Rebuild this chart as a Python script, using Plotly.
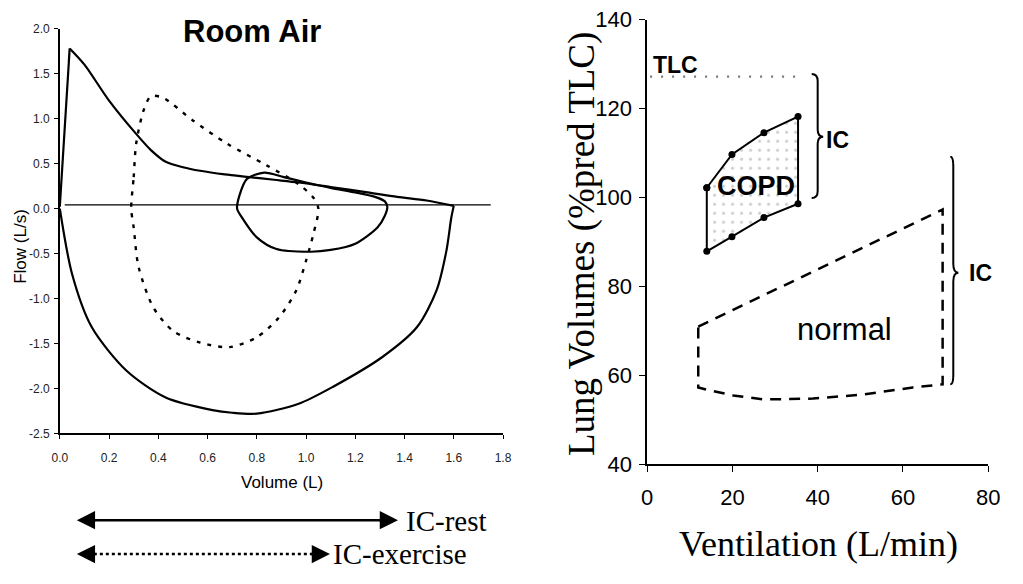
import plotly.graph_objects as go

# ---------------- Left panel: flow-volume loops (Room Air) ----------------
max_exp_volume = [0.00, 0.04, 0.10, 0.20, 0.31, 0.37, 0.43, 0.50, 0.57, 0.67, 0.77, 0.87, 0.97, 1.10, 1.25, 1.37, 1.49, 1.60]
max_exp_flow = [0.02, 1.78, 1.60, 1.20, 0.83, 0.65, 0.52, 0.46, 0.42, 0.38, 0.35, 0.32, 0.29, 0.24, 0.18, 0.13, 0.09, 0.03]
max_insp_volume = [1.60, 1.59, 1.57, 1.53, 1.45, 1.31, 1.11, 0.97, 0.80, 0.70, 0.62, 0.43, 0.27, 0.13, 0.05, 0.00]
max_insp_flow = [0.03, -0.10, -0.47, -0.91, -1.32, -1.65, -1.98, -2.17, -2.28, -2.27, -2.24, -2.10, -1.80, -1.32, -0.73, 0.00]

rest_volume = [0.72, 0.73, 0.76, 0.83, 0.91, 1.00, 1.10, 1.20, 1.28, 1.32, 1.33, 1.32, 1.29, 1.20, 1.10, 1.02, 0.88, 0.80, 0.74, 0.72]
rest_flow = [0.00, 0.15, 0.33, 0.40, 0.35, 0.29, 0.23, 0.18, 0.13, 0.08, 0.02, -0.08, -0.21, -0.39, -0.46, -0.48, -0.45, -0.32, -0.10, 0.00]

exercise_volume = [0.29, 0.30, 0.31, 0.34, 0.37, 0.42, 0.54, 0.68, 0.84, 0.97, 1.03, 1.05, 1.03, 1.00, 0.96, 0.89, 0.80, 0.69, 0.57, 0.46, 0.38, 0.32, 0.30, 0.29]
exercise_flow = [0.00, 0.35, 0.72, 1.09, 1.25, 1.23, 0.98, 0.72, 0.48, 0.27, 0.12, 0.00, -0.28, -0.58, -0.91, -1.21, -1.43, -1.54, -1.49, -1.36, -1.10, -0.65, -0.21, 0.00]

baseline_volume = [0.02, 1.75]
baseline_flow = [0.04, 0.04]

flow_ticks = [-2.5, -2.0, -1.5, -1.0, -0.5, 0.0, 0.5, 1.0, 1.5, 2.0]
flow_tick_labels = ["-2.5", "-2.0", "-1.5", "-1.0", "-0.5", "0.0", "0.5", "1.0", "1.5", "2.0"]
volume_ticks = [0.0, 0.2, 0.4, 0.6, 0.8, 1.0, 1.2, 1.4, 1.6, 1.8]
volume_tick_labels = ["0.0", "0.2", "0.4", "0.6", "0.8", "1.0", "1.2", "1.4", "1.6", "1.8"]

# ---------------- Right panel: lung volumes vs ventilation ----------------
copd_ventilation = [14.0, 19.9, 27.4, 35.4]
copd_eilv = [102.2, 109.7, 114.6, 118.2]
copd_eelv = [87.9, 91.2, 95.5, 98.6]

normal_upper_ventilation = [12.0, 69.3]
normal_upper_eilv = [71.0, 97.3]
normal_lower_ventilation = [12.0, 14.0, 20.2, 27.2, 38.9, 50.6, 62.3, 69.3]
normal_lower_eelv = [57.3, 56.8, 55.5, 54.6, 54.8, 55.7, 57.3, 58.0]

tlc_ventilation = [0.7, 35.1]
tlc_level = [127.2, 127.2]

vent_ticks = [0, 20, 40, 60, 80]
lv_ticks = [40, 60, 80, 100, 120, 140]

W, H = 1023, 584
# the captured picture maps figure pixels p to picture pixels off + s*p;
# these helpers invert that so items land where the reference shows them
SX, OX = 0.98, 8.2
SY, OY = 0.96, 11.3
def X(t): return ((t - OX) / SX) / W
def Y(t): return 1 - ((t - OY) / SY) / H

SANS = "Liberation Sans, Arial, sans-serif"
SERIF = "Liberation Serif, Times New Roman, serif"

fig = go.Figure()

solid = dict(color="black", width=2.2)
fig.add_trace(go.Scatter(x=max_exp_volume[:2], y=max_exp_flow[:2], mode="lines", line=solid, xaxis="x", yaxis="y"))
fig.add_trace(go.Scatter(x=max_exp_volume[1:], y=max_exp_flow[1:], mode="lines", line=dict(solid, shape="spline", smoothing=0.8), xaxis="x", yaxis="y"))
fig.add_trace(go.Scatter(x=max_insp_volume, y=max_insp_flow, mode="lines", line=dict(solid, shape="spline", smoothing=0.8), xaxis="x", yaxis="y"))
fig.add_trace(go.Scatter(x=baseline_volume, y=baseline_flow, mode="lines", line=dict(color="black", width=1.3), xaxis="x", yaxis="y"))
fig.add_trace(go.Scatter(x=rest_volume, y=rest_flow, mode="lines", line=dict(solid, shape="spline", smoothing=0.8), xaxis="x", yaxis="y"))
fig.add_trace(go.Scatter(x=exercise_volume, y=exercise_flow, mode="lines",
                         line=dict(color="black", width=2.4, dash="4px,7px", shape="spline", smoothing=0.8), xaxis="x", yaxis="y"))

fig.add_trace(go.Scatter(x=tlc_ventilation, y=tlc_level, mode="lines",
                         line=dict(color="#777", width=2.2, dash="2px,9px"), xaxis="x2", yaxis="y2"))

copd_x = copd_ventilation + copd_ventilation[::-1] + [copd_ventilation[0]]
copd_y = copd_eilv + copd_eelv[::-1] + [copd_eilv[0]]
fig.add_trace(go.Scatter(x=copd_x, y=copd_y, mode="lines+markers", fill="toself",
                         fillcolor="white",
                         fillpattern=dict(shape=".", fgcolor="#999", bgcolor="white", size=9, solidity=0.1),
                         line=dict(color="black", width=2), marker=dict(color="black", size=7),
                         xaxis="x2", yaxis="y2"))

normal_x = normal_upper_ventilation + normal_lower_ventilation[::-1] + [normal_upper_ventilation[0]]
normal_y = normal_upper_eilv + normal_lower_eelv[::-1] + [normal_upper_eilv[0]]
fig.add_trace(go.Scatter(x=normal_x, y=normal_y, mode="lines",
                         line=dict(color="black", width=2.5, dash="11px,8px"), xaxis="x2", yaxis="y2"))

def brace(x_end, x_spine, x_tip, y_top, y_mid, y_bot, d):
    return (f"M {x_end},{y_top} Q {x_spine},{y_top} {x_spine},{y_top - d} "
            f"L {x_spine},{y_mid + d} Q {x_spine},{y_mid} {x_tip},{y_mid} "
            f"Q {x_spine},{y_mid} {x_spine},{y_mid - d} "
            f"L {x_spine},{y_bot + d} Q {x_spine},{y_bot} {x_end},{y_bot}")

REST_ROW, EXER_ROW = 521, 555

shapes = [
    dict(type="path", xref="x2", yref="y2", path=brace(38.6, 40.0, 41.3, 127.8, 113.7, 99.9, 1.6),
         line=dict(color="black", width=2)),
    dict(type="path", xref="x2", yref="y2", path=brace(71.1, 71.8, 73.0, 109.2, 83.1, 58.0, 2.0),
         line=dict(color="black", width=2)),
    dict(type="line", xref="paper", yref="paper", x0=X(82), x1=X(388), y0=Y(REST_ROW), y1=Y(REST_ROW),
         line=dict(color="black", width=2.5)),
    dict(type="line", xref="paper", yref="paper", x0=X(88), x1=X(320), y0=Y(EXER_ROW), y1=Y(EXER_ROW),
         line=dict(color="black", width=2.5, dash="dot")),
]

def label(text, x, y, size, family=SANS, angle=0, xanchor="center", xref="paper", yref="paper"):
    return dict(text=text, x=x, y=y, xref=xref, yref=yref, showarrow=False, textangle=angle,
                xanchor=xanchor, yanchor="middle", font=dict(family=family, size=size, color="black"))

annotations = [
    label("<b>Room Air</b>", X(252), Y(31), 31),
    label("Volume (L)", X(282), Y(483), 17),
    label("Flow (L/s)", X(20), Y(246), 17, angle=-90),
    label("Ventilation (L/min)", X(818), Y(545), 36, family=SERIF),
    label("Lung Volumes (%pred TLC)", X(582), Y(244), 37, family=SERIF, angle=-90),
    label("<b>TLC</b>", 6.6, 129.9, 23, xref="x2", yref="y2"),
    label("<b>COPD</b>", 25.5, 102.5, 27, xref="x2", yref="y2"),
    label("<b>IC</b>", 44.7, 113.0, 23, xref="x2", yref="y2"),
    label("<b>IC</b>", 78.2, 83.1, 23, xref="x2", yref="y2"),
    label("normal", 46.4, 70.3, 31, xref="x2", yref="y2"),
    label("IC-rest", X(404), Y(REST_ROW + 1), 29, family=SERIF, xanchor="left"),
    label("IC-exercise", X(331), Y(EXER_ROW), 29, family=SERIF, xanchor="left"),
]
for xh, yh, axo in [(398, REST_ROW, -20), (77, REST_ROW, 20), (330, EXER_ROW, -20), (77, EXER_ROW, 20)]:
    annotations.append(dict(text="", x=X(xh), y=Y(yh), xref="paper", yref="paper", showarrow=True,
                            ax=axo, ay=0, arrowhead=2, arrowsize=1.4, arrowwidth=2.6, arrowcolor="black",
                            standoff=0, startstandoff=0))

axis_common = dict(showgrid=False, zeroline=False, showline=True, linecolor="black", ticks="outside",
                   tickcolor="black")

fig.update_layout(
    width=W, height=H, autosize=False,
    margin=dict(l=0, r=0, t=0, b=0),
    paper_bgcolor="white", plot_bgcolor="white",
    showlegend=False,
    xaxis=dict(axis_common, domain=[X(60), X(503)], range=[0, 1.8], tickvals=volume_ticks,
               ticktext=volume_tick_labels, ticklen=4, linewidth=1.5,
               tickfont=dict(family=SANS, size=12, color="#222"), ticklabelstandoff=8, anchor="y"),
    yaxis=dict(axis_common, domain=[Y(434), Y(28)], range=[-2.5, 2.0], tickvals=flow_ticks,
               ticktext=flow_tick_labels, ticklen=4, linewidth=1.5,
               tickfont=dict(family=SANS, size=12, color="#222"), ticklabelstandoff=2, anchor="x"),
    xaxis2=dict(axis_common, domain=[X(647), X(988)], range=[0, 80], tickvals=vent_ticks,
                ticklen=6, linewidth=1.5, tickfont=dict(family=SANS, size=22, color="black"),
                ticklabelstandoff=6, anchor="y2"),
    yaxis2=dict(axis_common, domain=[Y(465), Y(19)], range=[40, 140], tickvals=lv_ticks,
                ticklen=6, linewidth=1.5, tickfont=dict(family=SANS, size=22, color="black"),
                ticklabelstandoff=3, anchor="x2", ticklabeloverflow="allow"),
    shapes=shapes,
    annotations=annotations,
)

fig.write_html("out.html")
